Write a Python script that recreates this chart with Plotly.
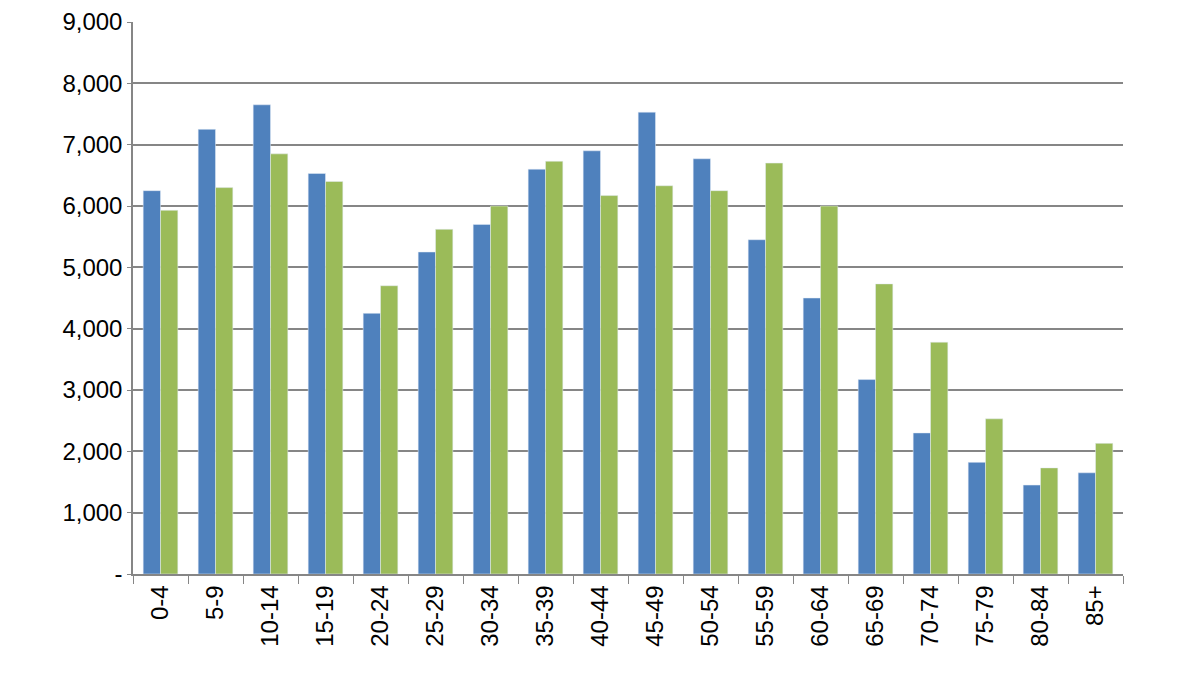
import plotly.graph_objects as go

age_groups = ["0-4", "5-9", "10-14", "15-19", "20-24", "25-29", "30-34", "35-39", "40-44",
              "45-49", "50-54", "55-59", "60-64", "65-69", "70-74", "75-79", "80-84", "85+"]
series_a = [6250, 7250, 7650, 6530, 4250, 5250, 5700, 6600, 6900,
            7530, 6770, 5450, 4500, 3170, 2300, 1820, 1450, 1650]
series_b = [5930, 6300, 6850, 6400, 4700, 5620, 6000, 6730, 6170,
            6330, 6250, 6700, 6000, 4730, 3780, 2530, 1730, 2130]
y_ticks = [0, 1000, 2000, 3000, 4000, 5000, 6000, 7000, 8000, 9000]
y_labels = ["-", "1,000", "2,000", "3,000", "4,000", "5,000", "6,000", "7,000", "8,000", "9,000"]

fig = go.Figure()
fig.add_trace(go.Bar(x=age_groups, y=series_a, name=" ", marker_color="#4F81BD"))
fig.add_trace(go.Bar(x=age_groups, y=series_b, name=" ", marker_color="#9BBB59"))

fig.update_layout(
    width=1200, height=674,
    margin=dict(l=125, r=85, t=14, b=108, autoexpand=False),
    plot_bgcolor="white", paper_bgcolor="white",
    bargap=0.37, bargroupgap=0,
    font=dict(family="Liberation Sans", size=24, color="black"),
    legend=dict(x=1.06, y=0.5, yanchor="middle", font=dict(size=34),
                tracegroupgap=20, bgcolor="rgba(0,0,0,0)"),
)
fig.update_yaxes(range=[0, 9000], tickvals=y_ticks, ticktext=y_labels, automargin=False,
                 showgrid=True, gridcolor="#868686", gridwidth=1.5,
                 showline=True, linecolor="#868686", linewidth=1.5,
                 ticks="outside", ticklen=4, tickcolor="#868686")
fig.update_xaxes(tickangle=-90, automargin=False, showline=True, linecolor="#868686", linewidth=1.5,
                 ticks="outside", ticklen=8, tickcolor="#868686", tickson="boundaries")

fig.write_html("out.html")
